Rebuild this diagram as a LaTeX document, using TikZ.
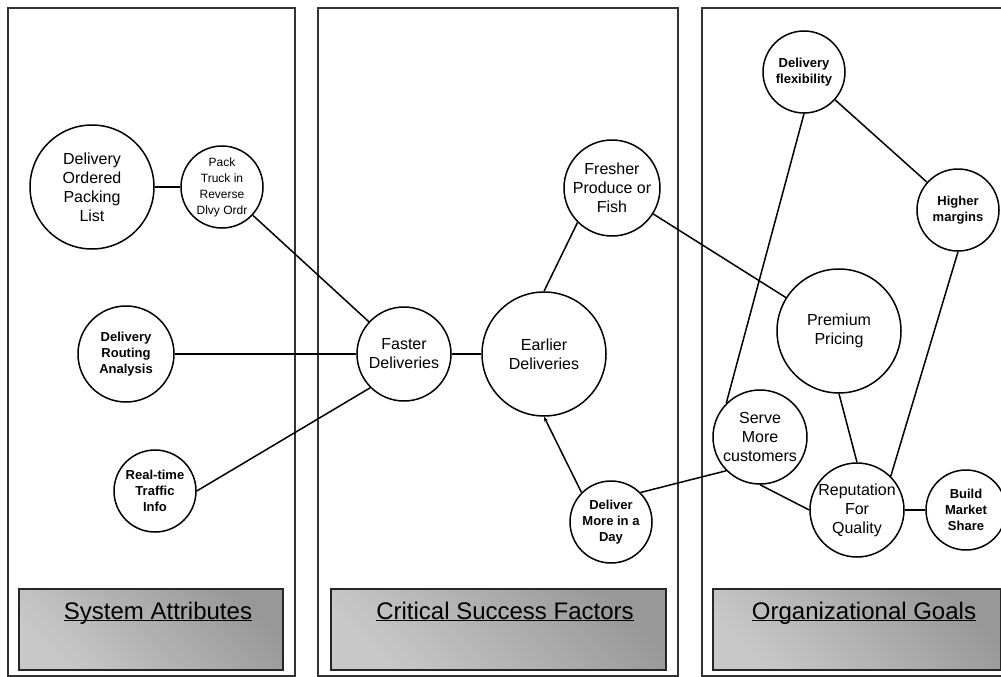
\documentclass[tikz,border=0pt]{standalone}
\usepackage{fontspec}
\setmainfont{Liberation Sans}
\usetikzlibrary{arrows.meta}
\definecolor{shadedark}{HTML}{989898}
\definecolor{shadelight}{HTML}{C8C8C8}
\begin{document}
\begin{tikzpicture}[x=1pt, y=-1pt,
		goal/.style={draw, circle, line width=1.5pt, inner sep=0pt, align=center, font=\fontsize{16}{19}\selectfont},
		boldgoal/.style={goal, font=\fontsize{13}{16}\selectfont\bfseries},
		link/.style={line width=1.5pt},
		panel/.style={draw=black!80, line width=1.4pt},
		titlebox/.style={draw=black!85, line width=1.6pt, top color=shadedark, bottom color=shadelight, shading angle=-45},
		title/.style={font=\fontsize{24}{28}\selectfont}]
		\clip (0, 0) rectangle (1001, 677);
		% the three columns
		\draw[panel] (8, 8) rectangle (295, 676);
		\draw[panel] (318, 8) rectangle (678, 676);
		\draw[panel] (702, 8) rectangle (1013, 676);
		% shaded title boxes
		\shade[titlebox] (19, 589) rectangle (283, 670);
		\shade[titlebox] (331, 589) rectangle (666, 670);
		\shade[titlebox] (713, 589) rectangle (1001, 670);
		\node[title] (tsys) at (158, 620) {\underline{\smash{System Attributes}}};
		\node[title] (tcsf) at (505, 620) {\underline{\smash{Critical Success Factors}}};
		\node[title] (torg) at (864, 620) {\underline{\smash{Organizational Goals}}};
		% system attributes
		\node[goal, minimum size=124pt] (dol) at (92, 187) {Delivery\\Ordered\\Packing\\List};
		\node[goal, minimum size=82pt, font=\fontsize{12}{16}\selectfont] (pack) at (222, 187) {Pack\\Truck in\\Reverse\\Dlvy Ordr};
		\node[boldgoal, minimum size=96pt] (route) at (126, 354) {Delivery\\Routing\\Analysis};
		\node[boldgoal, minimum size=82pt] (rt) at (155, 491) {Real-time\\Traffic\\Info};
		% critical success factors
		\node[goal, minimum size=94pt] (fast) at (404, 354) {Faster\\Deliveries};
		\node[goal, minimum size=124pt] (earl) at (544, 354) {Earlier\\Deliveries};
		\node[goal, minimum size=96pt] (fresh) at (612, 188) {Fresher\\Produce or\\Fish};
		\node[boldgoal, minimum size=82pt] (dmore) at (611, 522) {Deliver\\More in a\\Day};
		% organizational goals
		\node[boldgoal, minimum size=82pt] (flex) at (804, 72) {Delivery\\flexibility};
		\node[boldgoal, minimum size=82pt] (higher) at (958, 210) {Higher\\margins};
		\node[goal, minimum size=124pt] (prem) at (839, 331) {Premium\\Pricing};
		\node[goal, minimum size=94pt] (serve) at (760, 437) {Serve\\More\\customers};
		\node[goal, minimum size=94pt] (rep) at (857, 510) {Reputation\\For\\Quality};
		\node[boldgoal, minimum size=80pt] (build) at (966, 510) {Build\\Market\\Share};
		% links
		\draw[link] (dol) -- (pack);
		\draw[link] (pack) -- (fast);
		\draw[link] (route) -- (fast);
		\draw[link] (rt.east) -- (fast.south west);
		\draw[link] (fast) -- (earl);
		\draw[link] (earl.north) -- (fresh.south west);
		\draw[link, -{Stealth[length=5pt, width=4pt]}] (dmore.north west) -- (earl.south);
		\draw[link] (dmore.north east) -- (serve.south west);
		\draw[link] (fresh) -- (prem);
		\draw[link] (flex) -- (higher);
		\draw[link] (flex.south) -- (serve.north west);
		\draw[link] (higher.south) -- (rep.north east);
		\draw[link] (prem.south) -- (rep.north);
		\draw[link] (serve.south) -- (rep.west);
		\draw[link] (rep) -- (build);
	\end{tikzpicture}
\end{document}
